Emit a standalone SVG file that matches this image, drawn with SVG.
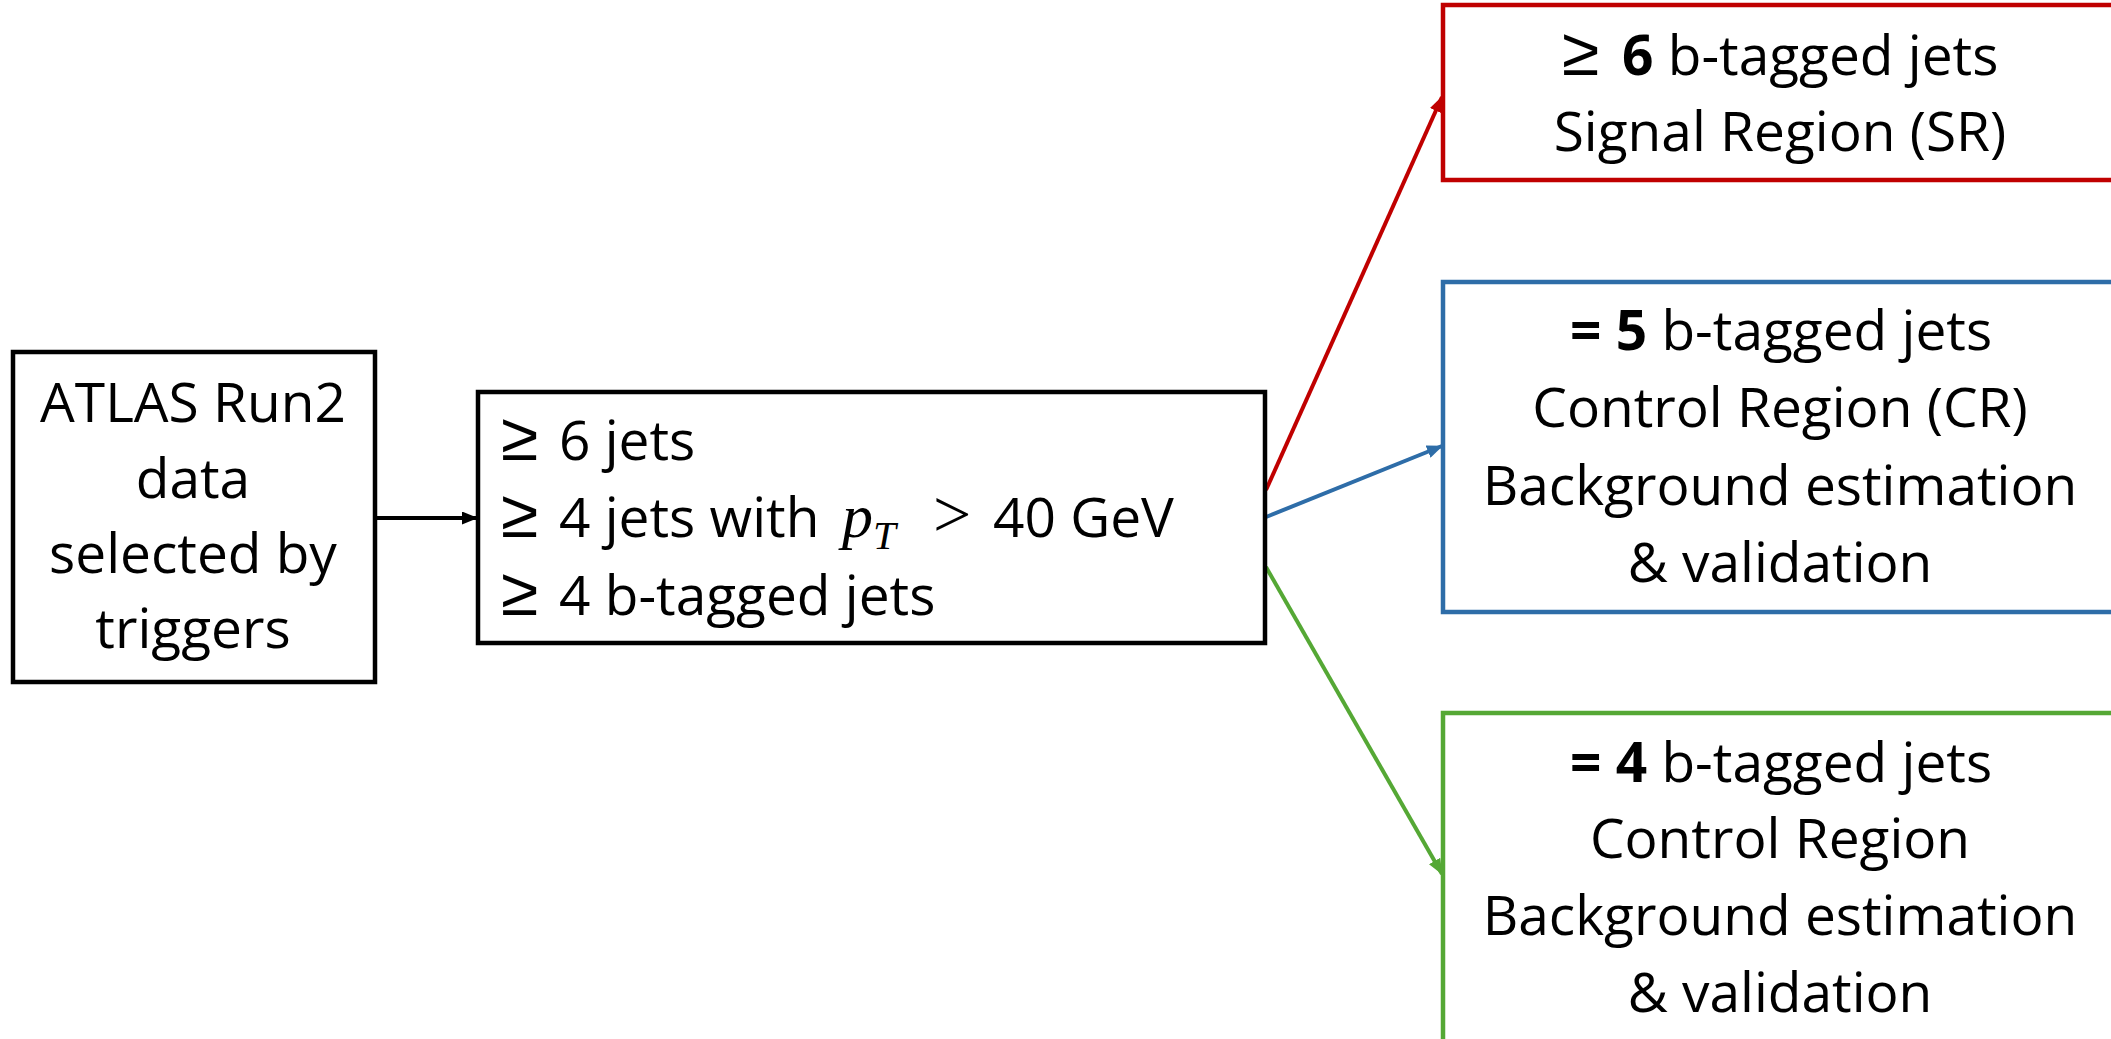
<svg xmlns="http://www.w3.org/2000/svg" width="2111" height="1039" viewBox="0 0 2111 1039">
  <style>
    .box { fill: #ffffff; stroke-width: 4.5; }
    .lbl { font-family: "Open Sans", "Liberation Sans", sans-serif; font-size: 55px; fill: #000000; }
    .mid { text-anchor: middle; }
    .sym { font-family: "Liberation Sans", sans-serif; font-size: 68px; }
    .math { font-family: "Liberation Serif", serif; font-style: italic; }
    .rel { font-family: "Liberation Serif", serif; font-size: 68px; }
    .b { font-weight: bold; }
    .conn { fill: none; stroke-width: 4; }
  </style>
  <defs>
    <marker id="ah-black" viewBox="0 0 16 13" refX="15" refY="6.5" markerWidth="16" markerHeight="13" markerUnits="userSpaceOnUse" orient="auto">
      <path d="M0,0 L16,6.5 L0,13 Z" fill="#000000"/>
    </marker>
    <marker id="ah-red" viewBox="0 0 16 13" refX="15" refY="6.5" markerWidth="16" markerHeight="13" markerUnits="userSpaceOnUse" orient="auto">
      <path d="M0,0 L16,6.5 L0,13 Z" fill="#C00000"/>
    </marker>
    <marker id="ah-blue" viewBox="0 0 16 13" refX="15" refY="6.5" markerWidth="16" markerHeight="13" markerUnits="userSpaceOnUse" orient="auto">
      <path d="M0,0 L16,6.5 L0,13 Z" fill="#2E6DA8"/>
    </marker>
    <marker id="ah-green" viewBox="0 0 16 13" refX="15" refY="6.5" markerWidth="16" markerHeight="13" markerUnits="userSpaceOnUse" orient="auto">
      <path d="M0,0 L16,6.5 L0,13 Z" fill="#55A835"/>
    </marker>
  </defs>

  <rect width="2111" height="1039" fill="#ffffff"/>

  <!-- connectors -->
  <g id="connectors">
    <line class="conn" x1="375" y1="518" x2="477" y2="518" stroke="#000000" marker-end="url(#ah-black)"/>
    <line class="conn" x1="1266" y1="490" x2="1442" y2="97" stroke="#C00000" marker-end="url(#ah-red)"/>
    <line class="conn" x1="1266" y1="517" x2="1442" y2="446" stroke="#2E6DA8" marker-end="url(#ah-blue)"/>
    <line class="conn" x1="1266" y1="567" x2="1442" y2="874" stroke="#55A835" marker-end="url(#ah-green)"/>
  </g>

  <!-- input data -->
  <g id="node-data">
    <rect class="box" x="13" y="352" width="362" height="330" stroke="#000000"/>
    <text class="lbl mid" x="193" y="422">ATLAS Run2</text>
    <text class="lbl mid" x="193" y="498">data</text>
    <text class="lbl mid" x="193" y="573">selected by</text>
    <text class="lbl mid" x="193" y="648">triggers</text>
  </g>

  <!-- preselection -->
  <g id="node-preselection">
    <rect class="box" x="478" y="392" width="787" height="251" stroke="#000000"/>
    <text class="lbl" y="460"><tspan class="sym" x="501">≥</tspan><tspan x="559">6 jets</tspan></text>
    <text class="lbl" y="537"><tspan class="sym" x="501">≥</tspan><tspan x="559">4 jets with</tspan><tspan class="math" x="842" font-size="62">p</tspan><tspan class="math" font-size="41" dy="12">T</tspan><tspan class="rel" x="933" dy="-12">&gt;</tspan><tspan x="993">40 GeV</tspan></text>
    <text class="lbl" y="615"><tspan class="sym" x="501">≥</tspan><tspan x="559">4 b-tagged jets</tspan></text>
  </g>

  <!-- signal region -->
  <g id="node-sr">
    <rect class="box" x="1443" y="5" width="700" height="175" stroke="#C00000"/>
    <text class="lbl" y="75"><tspan class="sym" x="1562">≥</tspan><tspan class="b" x="1622">6</tspan> b-tagged jets</text>
    <text class="lbl mid" x="1780" y="151">Signal Region (SR)</text>
  </g>

  <!-- control region, 5 b-tags -->
  <g id="node-cr5">
    <rect class="box" x="1443" y="282" width="700" height="330" stroke="#2E6DA8"/>
    <text class="lbl" x="1570" y="350"><tspan class="b">= 5</tspan> b-tagged jets</text>
    <text class="lbl mid" x="1780" y="427">Control Region (CR)</text>
    <text class="lbl mid" x="1780" y="505">Background estimation</text>
    <text class="lbl mid" x="1780" y="582">&amp; validation</text>
  </g>

  <!-- control region, 4 b-tags -->
  <g id="node-cr4">
    <rect class="box" x="1443" y="713" width="700" height="400" stroke="#55A835"/>
    <text class="lbl" x="1570" y="782"><tspan class="b">= 4</tspan> b-tagged jets</text>
    <text class="lbl mid" x="1780" y="858">Control Region</text>
    <text class="lbl mid" x="1780" y="935">Background estimation</text>
    <text class="lbl mid" x="1780" y="1012">&amp; validation</text>
  </g>
</svg>
